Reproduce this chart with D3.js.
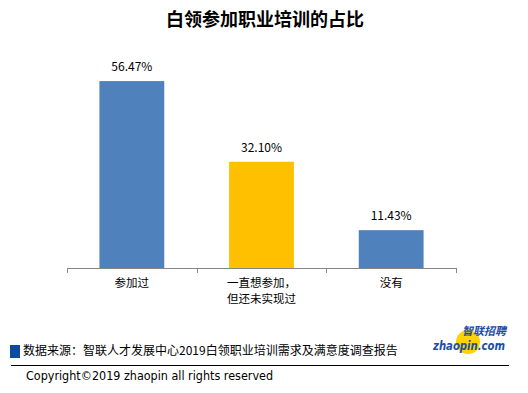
<!DOCTYPE html>
<html lang="zh">
<head>
  <meta charset="utf-8">
  <title>白领参加职业培训的占比</title>
  <script src="https://d3js.org/d3.v7.min.js"></script>
  <style>
    body { margin: 0; background: #fff; }
    text { font-family: "Noto Sans CJK SC", "Microsoft YaHei", sans-serif; }
  </style>
</head>
<body>
  <script>
    // data
    const categories = [["参加过"], ["一直想参加，", "但还未实现过"], ["没有"]];
    const values = [56.47, 32.10, 11.43];
    const barColors = ["#4f81bd", "#ffc000", "#4f81bd"];

    const width = 528, height = 393;
    const svg = d3.select("body").append("svg")
      .attr("width", width).attr("height", height);

    // title
    svg.append("text")
      .attr("x", 265).attr("y", 26)
      .attr("text-anchor", "middle")
      .style("font-size", "18px").style("font-weight", "bold")
      .text("白领参加职业培训的占比");

    // scales
    const x = d3.scaleBand()
      .domain(d3.range(values.length))
      .range([67, 456])
      .paddingInner(0.5).paddingOuter(0.25);
    const y = d3.scaleLinear().domain([0, 60]).range([268, 69.4]);

    svg.selectAll("rect.bar").data(values).enter().append("rect")
      .attr("class", "bar")
      .attr("x", (d, i) => x(i))
      .attr("y", d => y(d))
      .attr("width", x.bandwidth())
      .attr("height", d => y(0) - y(d))
      .style("fill", (d, i) => barColors[i]);

    svg.selectAll("text.val").data(values).enter().append("text")
      .attr("class", "val")
      .attr("x", (d, i) => x(i) + x.bandwidth() / 2)
      .attr("y", d => y(d) - 10)
      .attr("text-anchor", "middle")
      .style("font-size", "12px")
      .text(d => d.toFixed(2) + "%");

    // x axis with tick marks between categories
    const axis = svg.append("g");
    axis.append("line")
      .attr("x1", 67).attr("x2", 456).attr("y1", 268.5).attr("y2", 268.5)
      .style("stroke", "#868686");
    axis.selectAll("line.tick").data(d3.range(values.length + 1)).enter().append("line")
      .attr("class", "tick")
      .attr("x1", i => Math.round(67 + i * (389 / values.length)) + 0.5)
      .attr("x2", i => Math.round(67 + i * (389 / values.length)) + 0.5)
      .attr("y1", 268).attr("y2", 273)
      .style("stroke", "#868686");

    const cat = svg.selectAll("text.cat").data(categories).enter().append("text")
      .attr("class", "cat")
      .attr("text-anchor", "middle")
      .style("font-size", "11.5px");
    cat.selectAll("tspan").data((d, i) => d.map(t => ({ t, i }))).enter().append("tspan")
      .attr("x", d => x(d.i) + x.bandwidth() / 2)
      .attr("y", (d, j) => 287 + j * 16)
      .text(d => d.t);

    // footer
    svg.append("rect").attr("x", 10).attr("y", 345).attr("width", 10).attr("height", 13)
      .style("fill", "#0a4a9f");
    svg.append("text").attr("x", 23).attr("y", 355)
      .style("font-size", "12px")
      .text("数据来源：智联人才发展中心2019白领职业培训需求及满意度调查报告");
    svg.append("line").attr("x1", 11).attr("x2", 509).attr("y1", 365.5).attr("y2", 365.5)
      .style("stroke", "#000");
    svg.append("text").attr("x", 26).attr("y", 380)
      .style("font-size", "12px").style("font-family", "'DejaVu Sans', sans-serif")
      .attr("textLength", 247).attr("lengthAdjust", "spacingAndGlyphs")
      .text("Copyright©2019 zhaopin all rights reserved");

    // logo
    const logo = svg.append("g");
    logo.append("circle").attr("cx", 468).attr("cy", 342).attr("r", 12).style("fill", "#ffd200");
    logo.append("text").attr("x", 484).attr("y", 335).attr("text-anchor", "middle")
      .style("font-size", "11px").style("font-weight", "bold").style("fill", "#1b4ea3")
      .style("font-style", "italic")
      .text("智联招聘");
    logo.append("text").attr("x", 469).attr("y", 350).attr("text-anchor", "middle")
      .style("font-size", "12px").style("font-weight", "bold").style("fill", "#1b4ea3")
      .style("font-family", "'DejaVu Sans', sans-serif").style("font-style", "italic")
      .attr("textLength", 72).attr("lengthAdjust", "spacingAndGlyphs")
      .text("zhaopin.com");
  </script>
</body>
</html>
